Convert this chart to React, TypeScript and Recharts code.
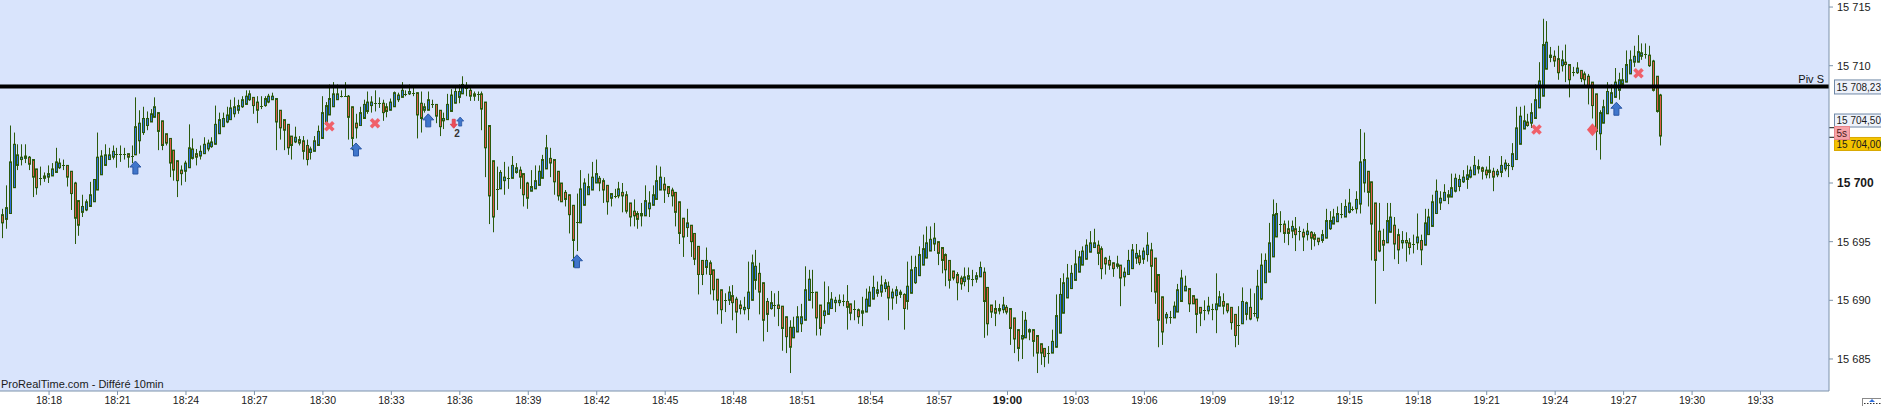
import { ComposedChart, Bar, Scatter, XAxis, YAxis, CartesianGrid, ReferenceLine } from 'recharts';

// 10-second candles [open, high, low, close], first candle 18:15:57
const segA = [
  [15697.3,15697.8,15695.3,15696.6],[15696.9,15699.8,15696.1,15697.9],[15697.4,15704.9,15697.4,15701.8],[15699.6,15704.3,15699.6,15703.3],
  [15701.5,15703.3,15701.1,15702.4],[15702.0,15703.3,15701.5,15702.2],[15702.1,15703.3,15701.7,15702.3],[15702.2,15702.3,15701.1,15701.6],
  [15702.0,15702.0,15698.8,15700.5],[15701.2,15701.2,15699.0,15699.6],[15700.4,15701.4,15699.8,15700.4],[15700.4,15700.9,15700.1,15700.6],
  [15700.5,15701.5,15700.0,15700.8],[15700.6,15701.7,15700.6,15701.2],[15700.9,15703.0,15700.9,15701.8],[15701.3,15702.1,15701.2,15701.7],
  [15701.5,15702.0,15701.1,15701.5],[15701.5,15701.5,15699.7,15700.5],[15701.0,15701.0,15697.7,15699.1],[15700.0,15700.1,15694.8,15697.0],
  [15698.5,15698.5,15695.5,15696.4],[15697.5,15699.0,15697.1,15698.0],[15697.7,15698.6,15697.6,15698.4],[15698.0,15700.1,15698.0,15699.0],
  [15698.4,15700.3,15698.4,15700.3],[15699.4,15704.3,15699.4,15702.2],[15700.7,15702.8,15700.7,15702.3],[15701.5,15703.3,15701.5,15702.4],
  [15702.0,15703.0,15702.0,15702.4],[15702.2,15703.2,15702.0,15702.7],[15702.5,15703.0,15701.3,15702.5],[15702.5,15703.2,15701.8,15702.6],
  [15702.5,15703.0,15702.0,15702.5],[15702.5,15702.5,15701.3,15702.2],[15702.3,15703.2,15701.7,15702.4],[15702.4,15707.3,15702.4,15704.8],
  [15703.6,15706.2,15702.5,15705.1],[15704.3,15706.5,15704.1,15705.5],[15704.9,15706.1,15704.5,15705.5],[15705.2,15706.3,15705.2,15705.9],
  [15705.6,15707.3,15705.6,15706.5],[15706.0,15706.0,15702.8,15704.4],[15705.3,15705.3,15702.8,15703.2],[15704.2,15704.2,15703.2,15703.4],
  [15703.8,15703.8,15700.5,15701.7],[15702.8,15702.8,15700.2,15701.1],[15701.9,15701.9,15698.8,15700.2],[15701.1,15701.5,15699.8,15700.8],
  [15701.0,15701.9,15700.1,15701.7],[15701.3,15705.0,15701.3,15703.0],[15702.1,15703.8,15702.0,15702.9],[15702.5,15702.9,15701.5,15702.2],
  [15702.3,15703.2,15702.0,15702.7],[15702.5,15703.9,15702.5,15703.3],[15702.9,15703.7,15702.7,15703.4],[15703.1,15703.9,15703.0,15703.5],
  [15703.3,15706.6,15703.3,15705.0],[15704.2,15706.0,15704.2,15705.4],[15704.8,15706.0,15704.8,15705.5],[15705.2,15706.5,15705.1,15705.8],
  [15705.4,15707.1,15705.4,15706.4],[15705.9,15707.3,15705.6,15706.5],[15706.2,15707.1,15705.9,15706.6],[15706.5,15707.4,15706.4,15707.1],
  [15706.7,15707.9,15706.7,15707.4],[15707.1,15707.9,15707.0,15707.6],[15707.3,15707.3,15705.9,15706.6],[15706.9,15707.4,15705.1,15706.2],
  [15706.6,15707.4,15706.3,15706.7],[15706.6,15707.4,15706.5,15707.2],[15706.9,15707.6,15706.8,15707.4],[15707.1,15707.7,15707.1,15707.4],
  [15707.2,15707.2,15702.8,15705.2],[15706.2,15706.2,15703.7,15704.7],[15705.4,15705.4,15702.8,15704.5],[15705.0,15705.0,15702.4,15703.0],
  [15704.0,15704.0,15702.0,15703.2],[15703.5,15704.8,15703.4,15703.9],[15703.7,15704.0,15703.2,15703.4],[15703.6,15704.0,15702.0,15702.7],
  [15703.2,15703.7,15701.5,15702.0],[15702.6,15703.1,15702.0,15702.9],[15702.7,15704.0,15702.7,15703.6],[15703.2,15704.9,15703.2,15704.4],
  [15703.8,15707.4,15703.8,15706.0],[15705.0,15706.9,15704.9,15706.6],[15705.8,15708.4,15705.8,15707.2],[15706.5,15708.6,15706.5,15707.6],
  [15707.1,15708.4,15707.1,15707.6],[15707.4,15707.9,15707.3,15707.5],[15707.4,15708.6,15707.4,15707.5],[15707.4,15707.5,15703.7,15705.6],
  [15706.5,15706.5,15702.8,15703.8],[15705.1,15705.9,15703.8,15704.7],[15704.9,15706.5,15704.9,15706.0],[15705.5,15707.1,15705.5,15706.7],
  [15706.1,15707.8,15705.9,15706.9],[15706.6,15707.4,15706.0,15706.9],[15706.8,15707.9,15706.1,15706.8],[15706.8,15707.3,15706.4,15706.8],
  [15706.8,15707.1,15705.3,15706.0],[15706.5,15706.8,15705.6,15706.1],[15706.2,15707.2,15706.2,15706.9],[15706.5,15707.8,15706.5,15707.7],
  [15707.1,15707.7,15706.9,15707.5],[15707.3,15708.6,15707.3,15707.9],[15707.6,15707.9,15707.4,15707.6],[15707.6,15708.4,15707.5,15707.8],
  [15707.7,15708.1,15707.4,15707.7],[15707.7,15707.7,15703.8,15705.8],
];

const segB = [
  [15706.8,15707.8,15704.3,15705.5],[15706.2,15706.8,15706.0,15706.5],[15706.2,15707.8,15706.2,15707.1],[15706.7,15707.1,15706.4,15706.7],
  [15706.7,15706.7,15705.1,15705.7],[15706.2,15706.2,15704.0,15704.8],[15705.3,15706.0,15704.6,15705.5],[15705.4,15707.6,15705.4,15706.7],
  [15706.1,15708.0,15706.1,15707.5],[15706.8,15708.1,15706.8,15707.8],[15707.3,15708.4,15706.8,15707.8],[15707.6,15709.1,15707.6,15708.4],
  [15708.1,15708.6,15707.4,15708.2],[15707.9,15708.1,15707.0,15707.4],[15707.6,15707.8,15707.0,15707.4],[15707.6,15707.8,15707.0,15707.6],
  [15707.6,15707.8,15704.5,15706.3],[15706.9,15706.9,15700.5,15703.0],[15704.9,15704.9,15696.5,15698.9],[15701.9,15701.9,15695.8,15697.1],
  [15699.5,15701.4,15697.7,15699.5],[15699.5,15701.1,15699.5,15700.9],[15700.2,15701.8,15699.0,15700.5],[15700.4,15701.4,15699.5,15700.4],
  [15700.4,15702.3,15700.4,15701.5],[15700.9,15701.7,15700.8,15701.3],[15701.1,15701.4,15699.5,15700.5],[15700.8,15700.8,15698.0,15699.0],
  [15700.0,15700.1,15697.8,15698.7],[15699.3,15701.1,15699.3,15699.7],[15699.5,15701.5,15699.5,15700.2],[15699.8,15701.5,15699.8,15701.0],
  [15700.4,15702.4,15700.4,15702.0],[15701.2,15704.1,15701.2,15703.0],[15702.1,15703.0,15700.5,15701.7],[15702.0,15702.0,15699.0,15700.1],
  [15701.0,15701.0,15698.5,15698.9],[15700.0,15700.0,15698.4,15698.4],[15699.2,15699.4,15698.0,15698.6],[15699.0,15699.0,15695.7,15697.3],
  [15698.1,15698.1,15692.8,15695.1],[15696.7,15699.1,15694.2,15696.7],[15696.6,15701.1,15696.6,15699.5],[15698.1,15700.4,15698.1,15700.0],
  [15699.0,15700.8,15699.0,15699.7],[15699.4,15701.8,15699.4,15700.5],[15700.0,15702.0,15700.0,15700.8],[15700.4,15700.6,15699.3,15700.0],
  [15700.2,15700.4,15698.3,15699.4],[15699.8,15699.8,15697.3,15698.4],[15698.7,15699.1,15698.0,15699.1],[15698.9,15699.5,15698.7,15698.9],
  [15698.9,15700.1,15698.7,15699.5],[15699.2,15700.0,15697.5,15698.9],[15699.0,15699.3,15697.4,15697.6],[15698.3,15698.3,15696.3,15697.1],
  [15697.6,15698.6,15696.3,15697.2],[15697.4,15697.6,15696.1,15696.9],[15697.2,15698.3,15696.3,15697.4],[15697.2,15699.8,15697.2,15698.5],
  [15697.8,15699.3,15697.1,15698.3],[15698.1,15699.8,15698.1,15699.0],[15698.6,15701.5,15698.6,15700.2],[15699.4,15701.4,15699.4,15700.5],
  [15699.9,15700.5,15698.3,15699.4],[15699.7,15699.7,15698.8,15699.1],[15699.4,15699.6,15698.0,15698.9],[15699.2,15699.2,15696.3,15697.5],
  [15698.4,15698.4,15694.8,15695.7],[15697.0,15697.0,15693.7,15695.4],[15696.2,15697.8,15695.4,15696.6],[15696.4,15696.4,15693.7,15695.0],
  [15695.7,15695.7,15693.0,15693.5],[15694.6,15694.6,15690.5,15692.2],[15693.4,15693.4,15691.3,15692.2],[15692.8,15694.5,15692.2,15693.4],
  [15693.2,15693.4,15690.5,15692.2],[15692.6,15692.6,15690.0,15690.9],[15691.8,15691.8,15688.8,15690.0],[15690.9,15690.9,15688.0,15689.2],
  [15690.0,15690.6,15689.0,15690.0],[15690.0,15691.2,15689.6,15690.7],[15690.4,15691.3,15688.3,15689.8],[15690.1,15690.3,15687.2,15689.0],
  [15689.6,15690.0,15688.8,15689.3],[15689.2,15690.3,15688.8,15689.4],[15689.3,15693.3,15688.3,15690.7],[15690.0,15693.9,15690.0,15693.2],
  [15691.7,15694.3,15690.9,15692.9],[15692.3,15693.2,15688.8,15690.7],[15691.5,15691.5,15686.5,15688.3],[15689.9,15690.2,15687.3,15688.8],
  [15689.3,15690.8,15689.2,15689.8],[15689.6,15690.6,15688.6,15689.6],[15689.6,15690.8,15687.8,15689.3],[15689.5,15689.5,15685.7,15687.6],
  [15688.6,15688.6,15685.5,15686.9],[15687.7,15688.3,15683.8,15686.0],[15686.8,15688.6,15686.8,15687.7],[15687.3,15689.5,15687.3,15688.6],
  [15688.0,15689.7,15687.3,15688.6],[15688.3,15692.9,15688.3,15690.9],[15690.0,15692.6,15690.0,15691.8],[15690.7,15692.6,15689.3,15690.7],
  [15690.7,15690.7,15687.0,15688.5],[15689.6,15689.6,15687.0,15687.6],[15688.7,15691.6,15688.0,15689.1],[15688.8,15691.2,15688.8,15689.8],
  [15689.3,15690.7,15689.3,15690.1],[15689.8,15690.3,15689.0,15690.0],
];

const segC = [
  [15689.8,15690.5,15689.5,15690.0],[15689.9,15690.5,15689.5,15689.9],[15689.9,15691.3,15687.5,15689.4],[15689.7,15689.7,15688.3,15688.9],
  [15689.3,15690.0,15688.3,15689.3],[15689.2,15689.3,15688.0,15688.6],[15688.9,15690.3,15687.8,15689.1],[15689.0,15691.0,15689.0,15690.1],
  [15689.5,15691.2,15689.5,15690.7],[15690.1,15692.1,15690.1,15691.1],[15690.6,15691.6,15690.3,15690.9],[15690.7,15692.1,15690.3,15691.3],
  [15691.0,15691.8,15690.7,15691.5],[15691.2,15691.6,15688.3,15690.2],[15690.2,15691.0,15689.2,15690.7],[15690.4,15691.2,15689.7,15690.9],
  [15690.7,15690.9,15690.2,15690.5],[15690.5,15690.6,15687.5,15689.3],[15689.9,15693.3,15689.2,15691.2],[15690.6,15693.8,15690.6,15692.6],
  [15691.5,15693.8,15691.4,15692.8],[15692.1,15694.6,15692.1,15693.9],[15693.0,15695.6,15693.0,15694.4],[15693.6,15696.3,15693.6,15694.9],
  [15694.2,15696.3,15694.2,15695.2],[15694.8,15696.6,15694.2,15695.3],[15695.0,15695.0,15693.0,15694.0],[15694.5,15694.5,15692.3,15693.4],
  [15693.9,15694.0,15691.2,15692.6],[15693.4,15693.4,15691.0,15691.7],[15692.5,15692.5,15691.7,15691.9],[15692.2,15692.4,15690.0,15691.5],
  [15691.9,15692.1,15690.9,15691.4],[15691.6,15692.8,15691.2,15692.0],[15691.8,15692.8,15690.7,15692.1],[15691.8,15692.6,15691.2,15691.8],
  [15691.8,15692.4,15691.5,15692.1],[15692.0,15693.3,15692.0,15692.8],[15692.4,15692.8,15686.8,15689.9],[15691.1,15691.1,15687.0,15688.0],
  [15689.6,15689.6,15688.5,15689.0],[15689.3,15690.0,15687.8,15688.9],[15689.1,15689.7,15688.8,15689.3],[15689.2,15690.3,15688.9,15689.6],
  [15689.4,15689.6,15688.8,15689.0],[15689.3,15689.3,15686.2,15687.6],[15688.5,15688.5,15685.5,15686.7],[15687.5,15687.5,15684.8,15685.9],
  [15686.7,15689.1,15685.0,15687.0],[15686.8,15689.0,15686.8,15688.3],[15687.5,15687.6,15686.6,15687.3],[15687.5,15687.5,15685.2,15686.5],
  [15687.0,15687.0,15683.8,15685.5],[15686.3,15686.3,15684.5,15685.5],[15685.9,15685.9,15684.3,15685.2],[15685.5,15686.1,15684.6,15685.5],
  [15685.5,15687.5,15685.5,15686.5],[15686.0,15690.5,15686.0,15688.7],[15687.2,15691.9,15687.2,15690.5],[15688.9,15692.3,15688.9,15691.5],
  [15690.2,15693.1,15690.2,15691.9],[15691.0,15693.0,15691.0,15692.3],[15691.7,15694.3,15691.7,15693.1],[15692.4,15694.2,15692.4,15693.7],
  [15693.0,15694.6,15693.0,15694.2],[15693.5,15695.2,15693.5,15694.7],[15694.1,15695.9,15694.1,15694.9],[15694.5,15696.1,15694.5,15694.9],
  [15694.7,15695.1,15693.0,15694.0],[15694.4,15694.6,15691.8,15692.7],[15693.6,15693.7,15692.2,15693.1],[15693.4,15693.8,15692.6,15693.0],
  [15693.2,15693.2,15692.0,15692.7],[15692.9,15693.8,15692.7,15693.1],[15693.0,15693.0,15689.5,15691.9],[15692.0,15692.8,15691.2,15692.4],
  [15692.2,15694.3,15692.2,15693.4],[15692.7,15694.8,15692.7,15694.3],[15693.6,15694.8,15693.1,15694.0],[15693.8,15694.3,15693.0,15693.2],
  [15693.5,15694.5,15693.1,15694.2],[15693.9,15695.8,15693.3,15694.7],[15694.3,15694.9,15690.7,15692.9],[15693.6,15693.6,15689.7,15690.7],
  [15692.2,15692.2,15686.0,15688.3],[15690.3,15690.3,15686.2,15687.3],[15688.5,15689.0,15688.0,15688.8],[15688.6,15689.1,15688.0,15688.6],
  [15688.5,15689.9,15688.5,15689.5],[15689.0,15691.4,15689.0,15690.9],[15689.9,15692.6,15689.9,15691.9],[15690.8,15692.1,15690.8,15691.2],
  [15691.0,15691.0,15689.0,15689.7],[15690.4,15690.4,15689.7,15689.7],[15690.1,15690.1,15687.2,15688.8],[15689.4,15689.4,15687.8,15688.9],
  [15689.2,15690.0,15688.3,15689.2],[15689.1,15690.3,15688.8,15689.5],[15689.3,15689.7,15688.3,15689.3],[15689.2,15692.3,15687.2,15689.7],
  [15689.5,15690.8,15689.5,15690.3],[15689.9,15690.6,15688.8,15689.5],[15689.7,15689.7,15688.9,15689.1],[15689.4,15689.4,15687.5,15688.1],
  [15688.8,15688.8,15686.0,15687.0],[15687.9,15689.5,15686.2,15687.9],[15688.0,15691.1,15688.0,15689.9],[15688.8,15689.9,15688.3,15689.8],
  [15689.4,15691.0,15688.3,15688.4],[15688.9,15690.6,15688.6,15689.0],
];

const segD = [
  [15688.5,15692.6,15688.2,15691.2],[15690.1,15694.0,15690.0,15693.0],[15691.5,15694.0,15691.5,15693.4],[15692.4,15696.6,15692.4,15694.9],
  [15693.7,15698.6,15693.7,15697.3],[15695.4,15698.3,15695.4,15697.4],[15696.5,15697.6,15695.8,15696.5],[15696.5,15696.8,15694.9,15695.7],
  [15696.1,15696.8,15694.7,15695.7],[15695.9,15696.8,15695.3,15696.3],[15696.1,15697.1,15694.2,15695.6],[15695.9,15696.3,15695.1,15695.9],
  [15695.8,15696.1,15694.2,15695.4],[15695.6,15696.6,15695.1,15695.9],[15695.8,15695.9,15694.3,15695.3],[15695.6,15695.8,15694.6,15695.2],
  [15695.3,15695.3,15694.7,15695.0],[15695.1,15696.0,15694.9,15695.6],[15695.3,15697.8,15695.3,15696.8],[15696.1,15697.6,15696.0,15696.8],
  [15696.5,15697.8,15696.5,15697.1],[15696.7,15698.0,15696.7,15697.4],[15697.4,15698.3,15697.0,15697.4],[15697.1,15698.6,15697.1,15698.0],
  [15697.5,15699.5,15697.4,15698.3],[15697.8,15698.0,15697.6,15697.7],[15697.8,15699.3,15697.4,15698.6],[15698.2,15704.6,15697.4,15701.8],
  [15700.0,15704.3,15699.2,15702.0],[15701.0,15701.0,15698.0,15699.2],[15700.1,15700.1,15693.4,15696.5],[15698.3,15698.3,15689.7,15693.4],
  [15695.9,15698.3,15694.1,15694.2],[15695.1,15696.1,15692.5,15694.7],[15694.9,15698.3,15694.9,15696.8],[15695.8,15698.3,15695.8,15697.1],
  [15696.4,15697.1,15693.5,15694.8],[15695.6,15696.1,15693.1,15694.3],[15694.9,15695.9,15694.4,15695.1],[15695.1,15695.8,15693.3,15694.9],
  [15694.9,15695.3,15693.9,15694.5],[15694.8,15695.6,15694.0,15694.9],[15694.9,15697.4,15694.3,15695.4],[15695.1,15695.6,15693.0,15694.3],
  [15694.7,15697.8,15694.7,15696.6],[15695.6,15697.8,15695.6,15697.1],[15696.3,15699.0,15696.3,15698.4],[15697.4,15700.3,15697.4,15699.3],
  [15698.3,15699.3,15697.7,15698.7],[15698.5,15699.9,15698.5,15699.2],[15699.0,15699.4,15698.2,15698.8],[15698.8,15700.8,15698.8,15699.6],
  [15699.3,15700.8,15699.2,15700.4],[15699.7,15700.7,15699.3,15700.3],[15700.1,15701.1,15700.0,15700.5],[15700.3,15701.5,15699.5,15700.7],
  [15700.5,15701.4,15700.4,15701.1],[15700.7,15702.3,15700.7,15701.5],[15701.2,15702.0,15700.8,15701.4],[15701.3,15701.4,15700.3,15701.0],
  [15701.1,15701.4,15700.4,15700.7],[15701.1,15702.3,15700.4,15700.9],[15701.0,15701.3,15699.3,15700.5],[15700.7,15701.2,15700.5,15701.0],
  [15700.9,15702.3,15700.5,15701.5],[15701.2,15702.0,15701.0,15701.7],[15701.5,15701.7,15700.5,15701.5],[15701.4,15703.4,15701.1,15702.5],
  [15702.0,15706.5,15702.0,15704.7],[15703.3,15706.5,15703.3,15705.7],[15704.6,15706.6,15704.6,15705.3],[15705.2,15705.9,15704.8,15704.9],
  [15705.1,15706.8,15704.7,15706.0],[15705.5,15708.4,15705.5,15707.1],[15706.4,15710.3,15706.4,15708.7],[15707.4,15714.0,15707.4,15711.8],
  [15709.7,15713.8,15709.7,15712.0],[15710.9,15711.6,15710.3,15710.7],[15710.8,15711.3,15709.9,15710.4],[15710.6,15711.7,15708.8,15709.4],
  [15710.0,15711.3,15709.5,15710.5],[15710.3,15711.8,15708.6,15710.1],[15710.1,15710.1,15707.3,15708.8],[15709.5,15709.9,15709.1,15709.5],
  [15709.4,15710.3,15709.3,15709.8],[15709.6,15709.6,15708.6,15708.9],[15709.3,15709.5,15708.1,15708.8],[15709.1,15709.3,15706.7,15708.3],
  [15708.6,15708.6,15705.5,15706.6],[15707.6,15707.6,15702.8,15704.4],[15704.2,15706.2,15702.0,15706.0],[15705.1,15707.1,15705.1,15706.5],
  [15705.9,15708.6,15705.9,15707.8],[15706.8,15708.4,15706.8,15707.7],[15707.3,15709.8,15707.3,15708.6],[15707.9,15709.4,15707.1,15708.8],
  [15708.4,15709.8,15708.4,15708.8],[15708.6,15711.3,15708.6,15710.1],[15709.3,15711.3,15709.3,15710.5],[15710.3,15711.7,15709.9,15710.8],
  [15710.3,15712.6,15710.3,15711.2],[15710.8,15711.9,15710.5,15711.1],[15711.0,15711.9,15710.6,15711.0],[15710.9,15711.7,15709.9,15710.0],
  [15710.4,15710.5,15707.8,15707.9],[15709.1,15709.1,15706.0,15706.1],[15707.5,15707.6,15703.2,15704.0],
];

const timeLabels = ['18:18','18:21','18:24','18:27','18:30','18:33','18:36','18:39','18:42','18:45','18:48','18:51','18:54',
  '18:57','19:00','19:03','19:06','19:09','19:12','19:15','19:18','19:21','19:24','19:27','19:30','19:33'];
const priceTicks = [15685, 15690, 15695, 15700, 15710, 15715];

const PIVOT = 15708.23;
const QUOTE = 15704.5;
const LAST = 15704.0;

// signal markers: [candle index, price]
const upArrows = [[35, 15701.32], [93, 15702.86], [112, 15705.34], [151.1, 15693.33], [424.4, 15706.33]];
const crosses = [[86, 15704.83], [98, 15705.09], [403.4, 15704.56], [430.2, 15709.35]];
const diamonds = [[418.1, 15704.54]];
const smallDown = [[118.7, 15705.05]];
const smallUp = [[120.4, 15705.24]];
const counts = [[119.6, 15704.2, '2']];

const T0 = 18 * 3600 + 15 * 60 + 57;
const STEP = 10;
const T_MIN = 18 * 3600 + 15 * 60 + 51;
const T_MAX = 19 * 3600 + 36 * 60;

const toSec = (s: string) => {
  const [h, m] = s.split(':').map(Number);
  return h * 3600 + m * 60;
};
const fmtTime = (v: number) => {
  const h = Math.floor(v / 3600);
  const m = Math.round((v % 3600) / 60);
  return `${h}:${String(m).padStart(2, '0')}`;
};
const fmtPrice = (v: number) => String(v).replace(/\B(?=(\d{3})+(?!\d))/g, ' ');

const bars = [...segA, ...segB, ...segC, ...segD].map(([open, high, low, close], i) => ({
  t: T0 + i * STEP, open, high, low, close,
}));
const toPts = (list: any[]) => list.map(([i, price, label]) => ({ t: T0 + i * STEP, price, label }));

const UP = '#2f6fdc';
const DOWN = '#dc5b4c';
const EDGE = '#2b5a0c';
const AXIS = '#7d93ab';
const FONT = '"Liberation Sans", Arial, sans-serif';

const Candle = (props: any) => {
  const { x, y, width, height, payload } = props;
  if (!payload || x == null || y == null) return null;
  const top = Math.min(y, y + height);
  const bottom = Math.max(y, y + height);
  const span = payload.high - payload.low || 1;
  const py = (v: number) => top + ((payload.high - v) / span) * (bottom - top);
  const cx = Math.round(x + width / 2);
  const yo = py(payload.open);
  const yc = py(payload.close);
  const bTop = Math.min(yo, yc);
  const bBot = Math.max(yo, yc);
  const up = payload.close >= payload.open;
  return (
    <g>
      <line x1={cx + 0.5} x2={cx + 0.5} y1={top} y2={bottom} stroke={EDGE} strokeWidth={1} />
      {bBot - bTop < 1.2 ? (
        <line x1={cx - 1} x2={cx + 2} y1={Math.round(yo) + 0.5} y2={Math.round(yo) + 0.5} stroke={EDGE} strokeWidth={1} />
      ) : (
        <rect x={cx - 0.5} y={bTop} width={2} height={bBot - bTop} fill={up ? UP : DOWN} stroke={EDGE} strokeWidth={1} />
      )}
    </g>
  );
};

const BigUp = ({ cx, cy }: any) => (
  <polygon
    points={`${cx},${cy - 6.5} ${cx + 5.5},${cy - 0.5} ${cx + 2.5},${cy - 0.5} ${cx + 2.5},${cy + 6.5} ${cx - 2.5},${cy + 6.5} ${cx - 2.5},${cy - 0.5} ${cx - 5.5},${cy - 0.5}`}
    fill="#4076cb" stroke="#2a56a3" strokeWidth={1}
  />
);
const SmallUp = ({ cx, cy }: any) => (
  <polygon
    points={`${cx},${cy - 4.5} ${cx + 3.5},${cy - 0.5} ${cx + 1.5},${cy - 0.5} ${cx + 1.5},${cy + 4.5} ${cx - 1.5},${cy + 4.5} ${cx - 1.5},${cy - 0.5} ${cx - 3.5},${cy - 0.5}`}
    fill="#4076cb" stroke="#2a56a3" strokeWidth={0.8}
  />
);
const SmallDown = ({ cx, cy }: any) => (
  <polygon
    points={`${cx},${cy + 4.5} ${cx + 3.5},${cy + 0.5} ${cx + 1.5},${cy + 0.5} ${cx + 1.5},${cy - 4.5} ${cx - 1.5},${cy - 4.5} ${cx - 1.5},${cy + 0.5} ${cx - 3.5},${cy + 0.5}`}
    fill="#ee4c57" stroke="#d83a45" strokeWidth={0.8}
  />
);
const Cross = ({ cx, cy }: any) => (
  <g stroke="#f0606a" strokeWidth={3.6}>
    <line x1={cx - 4} y1={cy - 4} x2={cx + 4} y2={cy + 4} />
    <line x1={cx - 4} y1={cy + 4} x2={cx + 4} y2={cy - 4} />
  </g>
);
const Diamond = ({ cx, cy }: any) => (
  <polygon points={`${cx},${cy - 6.5} ${cx + 5.5},${cy} ${cx},${cy + 6.5} ${cx - 5.5},${cy}`} fill="#ef5c64" />
);
const Count = ({ cx, cy, payload }: any) => (
  <text x={cx} y={cy + 3.5} textAnchor="middle" fontSize={10} fontWeight="bold" fontFamily={FONT} fill="#333">
    {payload.label}
  </text>
);

const TimeTick = ({ x, y, payload }: any) => {
  const label = fmtTime(payload.value);
  const bold = label === '19:00';
  return (
    <text x={x} y={y} dy={bold ? 6.8 : 7.3} textAnchor="middle" fontFamily={FONT} fontSize={bold ? 11.5 : 10.5}
      fontWeight={bold ? 'bold' : 'normal'} fill="#1a1a1a">
      {label}
    </text>
  );
};
const PriceTick = ({ x, y, payload }: any) => {
  const bold = payload.value === 15700;
  return (
    <text x={x} y={y} dy={4} textAnchor="start" fontFamily={FONT} fontSize={bold ? 12 : 11}
      fontWeight={bold ? 'bold' : 'normal'} fill="#1a1a1a">
      {fmtPrice(payload.value)}
    </text>
  );
};

// price tag in the right axis; box may sit off its level to avoid overlaps
const Tag = ({ viewBox, text, shift = 0, tickShift = 0, fill, stroke, color = '#1a1a1a', tick = false, w = 60 }: any) => {
  if (!viewBox) return null;
  const right = viewBox.x + viewBox.width;
  const y = viewBox.y;
  const cy = y + shift;
  return (
    <g>
      {tick && <line x1={right} x2={right + 5} y1={y + tickShift} y2={y + tickShift} stroke="#111" strokeWidth={1} />}
      <rect x={right + 5.5} y={cy - 6.5} width={w} height={13} fill={fill} stroke={stroke} strokeWidth={1} />
      <text x={right + 7.5} y={cy + 3.7} fontSize={10} fontFamily={FONT} fill={color}>{text}</text>
    </g>
  );
};
const PivotLabel = ({ viewBox }: any) => {
  if (!viewBox) return null;
  const right = viewBox.x + viewBox.width;
  return (
    <g>
      <text x={right - 5} y={viewBox.y - 3} textAnchor="end" fontSize={11} fontFamily={FONT} fill="#111">Piv S</text>
      <rect x={right + 5.5} y={viewBox.y - 6.5} width={60} height={14} fill="#eef2fa" stroke="#6f88a6" />
      <text x={right + 7.5} y={viewBox.y + 4.2} fontSize={10} fontFamily={FONT} fill="#1a1a1a">15 708,23</text>
    </g>
  );
};

export default function App() {
  return (
    <div style={{ position: 'absolute', left: 0, top: 0, width: 1881, height: 406, background: '#fff' }}>
      <ComposedChart width={1881} height={406} data={bars} margin={{ top: 0, right: 0, bottom: 0, left: 0 }}
        style={{ fontFamily: FONT }}>
        <CartesianGrid fill="#d9e4fc" horizontal={false} vertical={false} stroke="none" />
        <XAxis dataKey="t" type="number" domain={[T_MIN, T_MAX]} allowDataOverflow ticks={timeLabels.map(toSec)}
          interval={0} height={15} tickSize={4} tickMargin={2} tick={<TimeTick />}
          axisLine={{ stroke: AXIS }} tickLine={{ stroke: AXIS }} />
        <YAxis orientation="right" type="number" domain={[15682.27, 15715.6]} allowDataOverflow ticks={priceTicks}
          interval={0} width={52} tickSize={4} tickMargin={4} tick={<PriceTick />}
          axisLine={{ stroke: AXIS }} tickLine={{ stroke: AXIS }} />
        <Bar dataKey={(d: any) => [d.low, d.high]} barSize={3} shape={<Candle />} isAnimationActive={false} />
        <Scatter data={toPts(upArrows)} dataKey="price" shape={<BigUp />} isAnimationActive={false} />
        <Scatter data={toPts(smallDown)} dataKey="price" shape={<SmallDown />} isAnimationActive={false} />
        <Scatter data={toPts(smallUp)} dataKey="price" shape={<SmallUp />} isAnimationActive={false} />
        <Scatter data={toPts(counts)} dataKey="price" shape={<Count />} isAnimationActive={false} />
        <Scatter data={toPts(crosses)} dataKey="price" shape={<Cross />} isAnimationActive={false} />
        <Scatter data={toPts(diamonds)} dataKey="price" shape={<Diamond />} isAnimationActive={false} />
        <ReferenceLine y={PIVOT} stroke="#000" strokeWidth={4} label={<PivotLabel />} />
        <ReferenceLine y={QUOTE} stroke="none"
          label={<Tag text="15 704,50" shift={-9.7} tickShift={-2.5} fill="#eef2fa" stroke="#6f88a6" tick />} />
        <ReferenceLine y={LAST} stroke="none"
          label={<Tag text="15 704,00" shift={7.9} tickShift={1.2} fill="#f3c300" stroke="#d9a800" tick />} />
        <ReferenceLine y={QUOTE} stroke="none"
          label={<Tag text="5s" shift={2.8} fill="#f6a3a8" stroke="#e8868c" color="#4a1a1a" w={15} />} />
      </ComposedChart>
      <svg width={1881} height={406} style={{ position: 'absolute', left: 0, top: 0, pointerEvents: 'none' }}>
        <text x={1} y={388} fontSize={11} fontFamily={FONT} fill="#1a1a1a">ProRealTime.com - Différé 10min</text>
        <rect x={1862.5} y={398.5} width={20} height={10} fill="#fff" stroke="#8a8a8a" />
        <line x1={1864} x2={1881} y1={403.5} y2={403.5} stroke="#333" strokeDasharray="1.5 1.5" />
        <polygon points="1872,399 1875,402 1869,402" fill="#2f6fdc" />
      </svg>
    </div>
  );
}
